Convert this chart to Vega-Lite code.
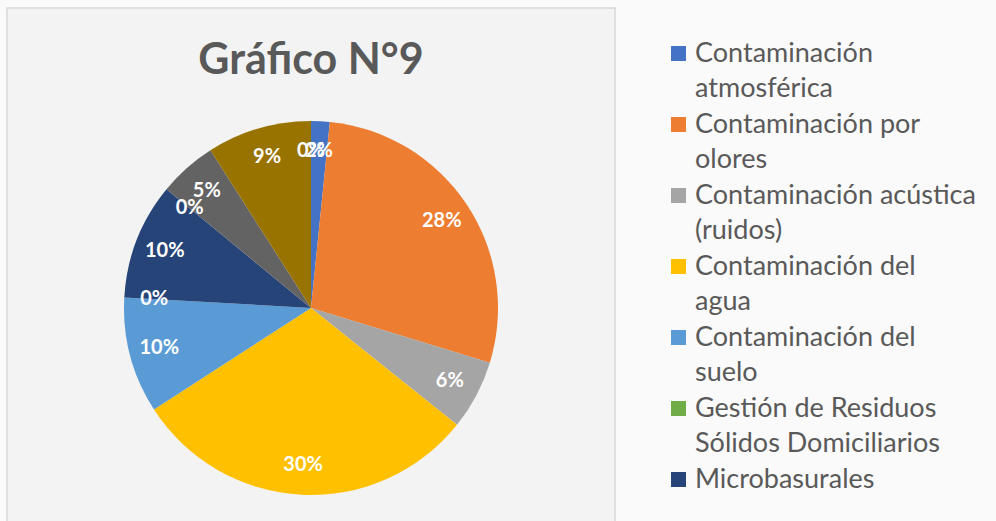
{
  "$schema": "https://vega.github.io/schema/vega-lite/v6.json",
  "autosize": {"type": "none"},
  "width": 608,
  "height": 600,
  "padding": {"left": 7, "top": 8, "right": 381, "bottom": -87},
  "background": "#fafafa",
  "view": {"stroke": "#d9d9d9", "strokeWidth": 1.5, "fill": "#f3f3f3"},
  "title": {
    "text": "Gráfico N°9",
    "anchor": "middle",
    "frame": "group",
    "offset": 0,
    "baseline": "alphabetic",
    "dy": 109,
    "font": "Lato",
    "fontSize": 43,
    "fontWeight": "bold",
    "color": "#595959"
  },
  "data": {
    "values": [
      {"categoria": "Contaminación atmosférica", "porcentaje": 0.016, "orden": 1},
      {"categoria": "Contaminación por olores", "porcentaje": 0.28, "orden": 2},
      {"categoria": "Contaminación acústica (ruidos)", "porcentaje": 0.06, "orden": 3},
      {"categoria": "Contaminación del agua", "porcentaje": 0.30, "orden": 4},
      {"categoria": "Contaminación del suelo", "porcentaje": 0.10, "orden": 5},
      {"categoria": "Gestión de Residuos Sólidos Domiciliarios", "porcentaje": 0, "orden": 6},
      {"categoria": "Microbasurales", "porcentaje": 0.10, "orden": 7},
      {"categoria": "Categoría 8", "porcentaje": 0, "orden": 8},
      {"categoria": "Categoría 9", "porcentaje": 0.05, "orden": 9},
      {"categoria": "Categoría 10", "porcentaje": 0.09, "orden": 10},
      {"categoria": "Categoría 11", "porcentaje": 0, "orden": 11}
    ]
  },
  "encoding": {
    "theta": {"field": "porcentaje", "type": "quantitative", "stack": true},
    "order": {"field": "orden", "type": "quantitative", "sort": "ascending"},
    "color": {
      "field": "categoria",
      "type": "nominal",
      "sort": null,
      "scale": {
        "domain": ["Contaminación atmosférica", "Contaminación por olores", "Contaminación acústica (ruidos)", "Contaminación del agua", "Contaminación del suelo", "Gestión de Residuos Sólidos Domiciliarios", "Microbasurales", "Categoría 8", "Categoría 9", "Categoría 10", "Categoría 11"],
        "range": ["#4472C4", "#ED7D31", "#A5A5A5", "#FFC000", "#5B9BD5", "#70AD47", "#264478", "#9E480E", "#636363", "#997300", "#255E91"]
      },
      "legend": {
        "orient": "none",
        "legendX": 658,
        "legendY": 32,
        "padding": 0,
        "title": null,
        "values": ["Contaminación atmosférica", "Contaminación por olores", "Contaminación acústica (ruidos)", "Contaminación del agua", "Contaminación del suelo", "Gestión de Residuos Sólidos Domiciliarios", "Microbasurales"],
        "symbolType": "square",
        "symbolSize": 225,
        "symbolStrokeWidth": 0,
        "labelFont": "Lato",
        "labelFontSize": 27,
        "labelColor": "#595959",
        "labelOffset": 3,
        "labelLimit": 400,
        "rowPadding": 8,
        "labelExpr": "datum.label == 'Contaminación atmosférica' ? ['Contaminación', 'atmosférica'] : datum.label == 'Contaminación por olores' ? ['Contaminación por', 'olores'] : datum.label == 'Contaminación acústica (ruidos)' ? ['Contaminación acústica', '(ruidos)'] : datum.label == 'Contaminación del agua' ? ['Contaminación del', 'agua'] : datum.label == 'Contaminación del suelo' ? ['Contaminación del', 'suelo'] : datum.label == 'Gestión de Residuos Sólidos Domiciliarios' ? ['Gestión de Residuos', 'Sólidos Domiciliarios'] : datum.label",
        "encoding": {"labels": {"lineHeight": {"value": 35.4}}}
      }
    }
  },
  "layer": [
    {"mark": {"type": "arc", "outerRadius": 187, "stroke": null}},
    {
      "mark": {"type": "text", "radius": 157, "font": "Lato", "fontSize": 20, "fontWeight": "bold", "fill": "white"},
      "encoding": {
        "text": {"field": "porcentaje", "type": "quantitative", "format": ".0%"},
        "color": {"value": "white"}
      }
    }
  ]
}
